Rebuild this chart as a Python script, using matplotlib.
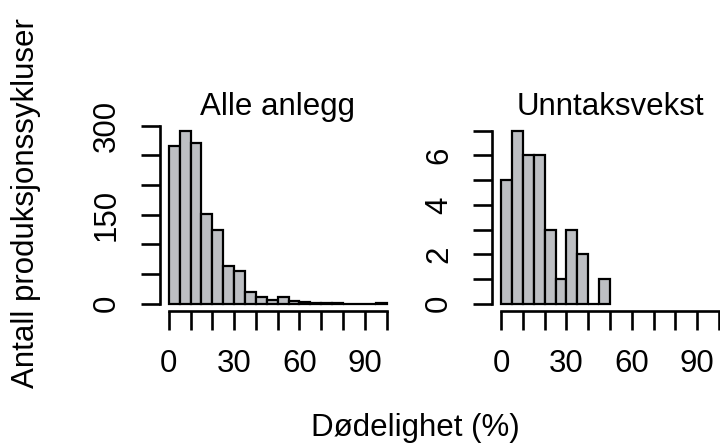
import numpy as np
import matplotlib
matplotlib.use('Agg')
import matplotlib.pyplot as plt

plt.rcParams['font.family'] = ['Liberation Sans', 'DejaVu Sans']

# histogram counts, bins of 5 % mortality
edges_all = np.arange(0, 105, 5)
counts_all = [265, 291, 271, 152, 125, 64, 56, 19, 12, 7,
              11, 4, 3, 1, 2, 2, 0, 0, 0, 1]
edges_unn = np.arange(0, 55, 5)
counts_unn = [5, 7, 6, 6, 3, 1, 3, 2, 0, 1]

titles = ['Alle anlegg', 'Unntaksvekst']
xticks = np.arange(0, 110, 10)
xlabels = ['0', '30', '60', '90']
yticks_all = np.arange(0, 350, 50)
yticks_unn = np.arange(0, 8, 1)

FS = 22.5
BAR = '#bdbfc3'

fig = plt.figure(figsize=(7.2, 4.43), dpi=100)
W = 235.4 / 720
H = 186.9 / 443
B = 1 - 310.7 / 443
ax1 = fig.add_axes([160 / 720, B, W, H])
ax2 = fig.add_axes([492.3 / 720, B, W, H])

def draw(ax, edges, counts, yticks, ylabs, ymax, title):
  ax.bar(edges[:-1], counts, width=5, align='edge', color=BAR,
         edgecolor='black', linewidth=1.6)
  ax.set_xlim(-4, 104)
  ax.set_ylim(-0.04 * ymax, 1.04 * ymax)
  for s in ['top', 'right']:
    ax.spines[s].set_visible(False)
  for s in ['left', 'bottom']:
    ax.spines[s].set_linewidth(1.9)
  ax.spines['bottom'].set_bounds(0, 100)
  ax.spines['left'].set_bounds(yticks[0], yticks[-1])
  ax.set_xticks(xticks)
  ax.set_xticklabels([str(t) if t in (0, 30, 60, 90) else '' for t in xticks])
  ax.set_yticks(yticks)
  ax.set_yticklabels([str(t) if t in ylabs else '' for t in yticks])
  ax.tick_params(axis='both', direction='out', length=13.5, width=1.9,
                 labelsize=FS)
  ax.tick_params(axis='x', pad=14)
  ax.tick_params(axis='y', pad=14, labelrotation=90)
  for lab in ax.get_yticklabels():
    lab.set_va('center')
  ax.set_title(title, fontsize=FS, pad=6.5)
  ax.patch.set_alpha(0)

draw(ax1, edges_all, counts_all, yticks_all, (0, 150, 300), 291.5, titles[0])
draw(ax2, edges_unn, counts_unn, yticks_unn, (0, 2, 4, 6), 7, titles[1])

fig.text(415 / 720, 1 - 436 / 443, 'Dødelighet (%)', fontsize=FS,
         ha='center', va='baseline')
fig.text(26 / 720, 1 - 203.5 / 443, 'Antall produksjonssykluser', fontsize=FS,
         ha='center', va='center', rotation=90)

fig.savefig('out.png', dpi=100)
